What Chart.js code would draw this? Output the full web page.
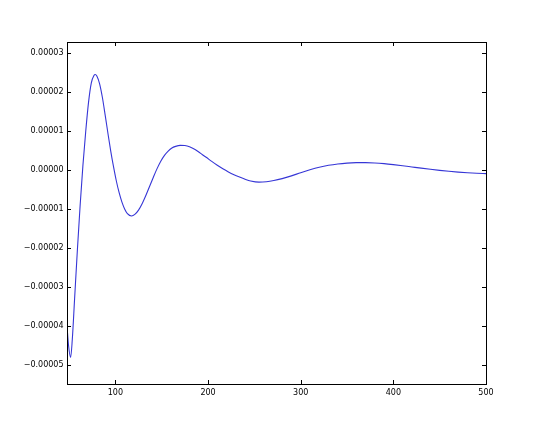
<!DOCTYPE html>
<html>
<head>
<meta charset="utf-8">
<script src="https://cdn.jsdelivr.net/npm/chart.js@4/dist/chart.umd.min.js"></script>
<style>
html,body{margin:0;padding:0;background:#fff;}
#wrap{width:540px;height:427px;position:relative;}
</style>
</head>
<body>
<div id="wrap"><canvas id="c" width="540" height="427"></canvas></div>
<script>
// Data (x, y in units of 1e-5)
const xValues = [47.8, 49.5, 51.7, 53.5, 56, 59, 62, 65, 68, 71, 74, 77, 78.3, 80, 83, 86, 89, 92, 95, 98, 101, 104, 107, 110, 113, 117.5, 121, 125, 129, 133, 137, 141, 145, 149, 153, 157, 161, 165, 170, 175, 180, 186, 192, 198, 204, 210, 216, 222, 228, 234, 240, 246, 255, 263, 271, 280, 290, 300, 310, 320, 330, 340, 350, 360, 370, 380, 390, 400, 410, 420, 430, 440, 450, 460, 470, 480, 490, 500];
const yValuesE5 = [-4.0, -4.5, -4.80, -4.35, -3.3, -2.05, -0.9, 0.12, 0.98, 1.72, 2.22, 2.42, 2.44, 2.4, 2.2, 1.85, 1.4, 0.93, 0.48, 0.08, -0.28, -0.58, -0.82, -1.0, -1.12, -1.18, -1.14, -1.03, -0.86, -0.65, -0.42, -0.19, 0.03, 0.22, 0.37, 0.48, 0.56, 0.6, 0.625, 0.62, 0.59, 0.52, 0.42, 0.32, 0.215, 0.115, 0.025, -0.055, -0.125, -0.185, -0.24, -0.285, -0.315, -0.305, -0.275, -0.225, -0.155, -0.075, 0.0, 0.065, 0.115, 0.15, 0.172, 0.183, 0.185, 0.176, 0.158, 0.133, 0.104, 0.073, 0.042, 0.013, -0.014, -0.038, -0.058, -0.074, -0.087, -0.097];
const xTicks = [100, 200, 300, 400, 500];
const yTicks = [-0.00005, -0.00004, -0.00003, -0.00002, -0.00001, 0, 0.00001, 0.00002, 0.00003];

const points = xValues.map((x, i) => ({x: x, y: yValuesE5[i] * 1e-5}));

const frameTicks = {
  id: 'frameTicks',
  afterDraw(chart) {
    const ctx = chart.ctx;
    const a = chart.chartArea;
    const xs = chart.scales.x, ys = chart.scales.y;
    ctx.save();
    ctx.strokeStyle = '#000';
    ctx.lineWidth = 1;
    ctx.strokeRect(Math.round(a.left) + 0.5, Math.round(a.top) + 0.5, Math.round(a.right - a.left), Math.round(a.bottom - a.top));
    ctx.beginPath();
    const L = 4;
    xTicks.forEach(v => {
      const px = Math.round(xs.getPixelForValue(v)) + 0.5;
      ctx.moveTo(px, a.bottom); ctx.lineTo(px, a.bottom - L);
      ctx.moveTo(px, a.top); ctx.lineTo(px, a.top + L);
    });
    yTicks.forEach(v => {
      const py = Math.round(ys.getPixelForValue(v)) + 0.5;
      ctx.moveTo(a.left, py); ctx.lineTo(a.left + L, py);
      ctx.moveTo(a.right, py); ctx.lineTo(a.right - L, py);
    });
    ctx.stroke();
    ctx.restore();
  }
};

const tickFont = {family: 'DejaVu Sans', size: 8};

new Chart(document.getElementById('c'), {
  type: 'line',
  data: {
    datasets: [{
      data: points,
      borderColor: '#3636d6',
      borderWidth: 1.1,
      pointRadius: 0,
      fill: false,
      cubicInterpolationMode: 'monotone'
    }]
  },
  options: {
    responsive: false,
    animation: false,
    events: [],
    layout: {padding: {left: 0, top: 42, right: 54, bottom: 0}},
    plugins: {legend: {display: false}, tooltip: {enabled: false}},
    scales: {
      x: {
        type: 'linear',
        min: 47.8,
        max: 500,
        afterBuildTicks: s => { s.ticks = xTicks.map(v => ({value: v})); },
        afterFit: s => { s.height = 43; },
        grid: {display: false, drawTicks: false},
        border: {display: false},
        ticks: {color: '#000', font: tickFont, padding: 4, maxRotation: 0, autoSkip: false,
          callback: v => String(v)}
      },
      y: {
        type: 'linear',
        min: -0.0000548,
        max: 0.0000327,
        afterBuildTicks: s => { s.ticks = yTicks.map(v => ({value: v})); },
        afterFit: s => { s.width = 67; },
        grid: {display: false, drawTicks: false},
        border: {display: false},
        ticks: {color: '#000', font: tickFont, padding: 3.5, autoSkip: false,
          callback: v => (Math.abs(v) < 1e-12 ? '0.00000' : v.toFixed(5).replace('-', '\u2212'))}
      }
    }
  },
  plugins: [frameTicks]
});
</script>
</body>
</html>
